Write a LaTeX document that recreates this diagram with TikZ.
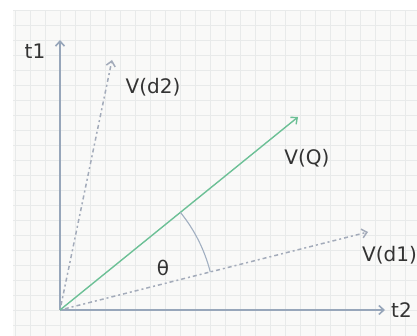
\documentclass[tikz,border=0pt]{standalone}
\usepackage{fontspec}
\setmainfont{DejaVu Sans}
\usetikzlibrary{arrows.meta, positioning}

\definecolor{axisblue}{HTML}{97A6BA}
\definecolor{vecgreen}{HTML}{6CC096}
\definecolor{docgray}{HTML}{A3ABBA}
\definecolor{gridgray}{HTML}{E8EAEA}
\definecolor{paper}{HTML}{F9F9F8}
\definecolor{inkgray}{HTML}{333333}

\begin{document}
\begin{tikzpicture}[x=1pt, y=1pt,
		axis/.style={-{Straight Barb[length=5pt, width=9pt]}, axisblue, line width=1.6pt},
		qvec/.style={-{Straight Barb[length=5pt, width=9pt]}, vecgreen, line width=1.4pt},
		docvec/.style={-{Straight Barb[length=5pt, width=9pt]}, docgray, line width=1.5pt, dash pattern=on 2pt off 3pt on 4pt off 3pt},
		anglearc/.style={axisblue!90, line width=1.1pt},
		gridline/.style={gridgray, line width=0.6pt},
		lbl/.style={font=\fontsize{20}{22}\selectfont, text=inkgray, inner sep=1pt}
		]
		
		% Canvas
		\useasboundingbox (0,0) rectangle (417,336);
		\clip (0,0) rectangle (417,336);
		\fill[white] (0,0) rectangle (417,336);
		\fill[paper] (13,0) rectangle (417,326);
		\draw[gridline, step=15, yshift=11] (13,-11) grid (417,315);
		
		% Points
		\coordinate (o) at (60,26);
		\coordinate (t1tip) at (60,296);
		\coordinate (t2tip) at (385,26);
		\coordinate (d2tip) at (112,276);
		\coordinate (qtip) at (298,219);
		\coordinate (d1tip) at (368,104);
		
		% Axes
		\draw[axis] (o) -- (t1tip);
		\draw[axis] (o) -- (t2tip);
		
		% Vectors
		\draw[docvec] (o) -- (d2tip);
		\draw[docvec] (o) -- (d1tip);
		\draw[qvec] (o) -- (qtip);
		
		% Angle between V(Q) and V(d1)
		\draw[anglearc] (o) ++(14.2:155) arc[start angle=14.2, end angle=39, radius=155];
		
		% Labels
		\node[lbl] (t1) at (35,285) {t1};
		\node[lbl, anchor=west] (t2) at (390,26) {t2};
		\node[lbl] (d2) at (153,249) {V(d2)};
		\node[lbl] (q) at (307,178) {V(Q)};
		\node[lbl, anchor=west] (d1) at (361,81) {V(d1)};
		\node[lbl] (theta) at (163,68) {θ};
		
	\end{tikzpicture}
\end{document}
